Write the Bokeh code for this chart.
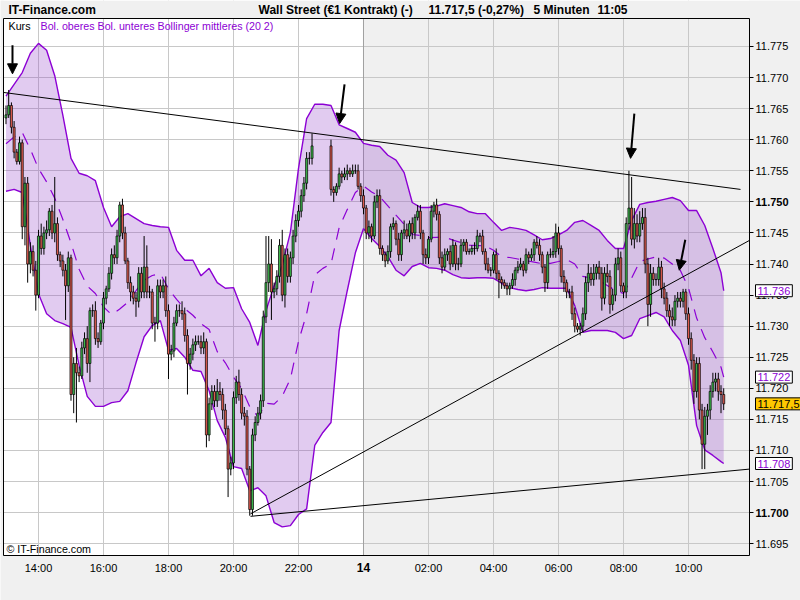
from bokeh.plotting import figure
from bokeh.models import (Range1d, FixedTicker, Label, Arrow, NormalHead,
                          ColumnDataSource)
from bokeh.embed import file_html
from bokeh.resources import INLINE

# ---------------- data ----------------
start_minute = 780          # first candle 13:00 (minutes after midnight of day 13)
step_minutes = 5
first_open = 11763.5

closes = [
    11764, 11765.5, 11762, 11758, 11756.5, 11759.5, 11746, 11753, 11740, 11742,
    11739, 11735, 11744.5, 11742.5, 11745, 11745.5, 11748.5, 11745, 11746.5, 11741.5,
    11740.5, 11739, 11736.5, 11741, 11719, 11724, 11722.5, 11722, 11726.5, 11728,
    11724, 11732.5, 11732.5, 11728, 11727.5, 11730.5, 11734.5, 11736, 11738.5, 11741.5,
    11741, 11744.5, 11749.5, 11745, 11740.5, 11737, 11735.5, 11734.5, 11734, 11738.5,
    11735.5, 11739.5, 11735.5, 11735.5, 11730.5, 11730.5, 11736.5, 11735.5, 11736.5, 11732.5,
    11725.5, 11726, 11730.5, 11732.5, 11732.5, 11732, 11728.5, 11724, 11725.5, 11727,
    11727.5, 11727.5, 11726.5, 11727.5, 11712.5, 11717.5, 11719.5, 11718, 11719.5, 11719,
    11716.5, 11713.5, 11707, 11708, 11718.5, 11721, 11719, 11716, 11715.5, 11707,
    11700.5, 11712.5, 11714.5, 11716, 11718, 11731.5, 11737, 11740, 11735.5, 11736,
    11738, 11743, 11735, 11741.5, 11738, 11741, 11744.5, 11747, 11748.5, 11751,
    11753, 11757, 11757, 11759, None, None, None, None, None, None,
    11752, 11751.5, 11752.5, 11754.5, 11754, 11754.5, 11755, 11754.5, 11755, 11755,
    11752.5, 11751, 11749, 11745, 11746, 11744.5, 11750, 11751, 11742.5, 11741.5,
    11740.5, 11742, 11746, 11746.5, 11744, 11741.5, 11745, 11745.5, 11744.5, 11746.5,
    11745, 11747.5, 11748.5, 11745, 11741.5, 11741, 11744, 11748.5, 11749.5, 11748,
    11741, 11739.5, 11741.5, 11742, 11740, 11743, 11740, 11740, 11743, 11743.5,
    11742, 11742, 11742.5, 11742.5, 11744.5, 11744.5, 11742, 11740, 11739, 11739,
    11741.5, 11738.5, 11737.5, 11737, 11736.5, 11736, 11736.5, 11737.5, 11739, 11739.5,
    11740, 11739, 11741.5, 11741, 11741.5, 11743.5, 11743, 11741.5, 11739.5, 11737,
    11741.5, 11741.5, 11742, 11745, 11742.5, 11738, 11737, 11735.5, 11735.5, 11732,
    11730, 11729.5, 11730, 11732, 11737, 11738.5, 11737.5, 11738.5, 11739.5, 11738.5,
    11734.5, 11738.5, 11738, 11733.5, 11735, 11740, 11741, 11736.5, 11735.5, 11746.5,
    11749, 11744, 11746.5, 11744.5, 11746.5, 11747.5, 11740, 11733.5, 11738.5, 11737.5,
    11737.5, 11739.5, 11736, 11734.5, 11732.5, 11731.5, 11731, 11734, 11734.5, 11734,
    11735.5, 11732, 11728, 11724.5, 11719.5, 11724, 11716.5, 11711, 11715.5, 11716.5,
    11719.5, 11721, 11721.5, 11719.5, 11719, 11717.5,
]

# wick length above max(open, close) and below min(open, close), in points
wick_up = [
    1.5, 2.5, 0.5, 1, 0.5, 1, 0.5, 1, 1, 1.5,
    1, 1.5, 1, 2, 1, 1.5, 0.5, 1, 7.5, 1,
    0.5, 1, 1, 1, 0.5, 1, 2.5, 1, 1, 1,
    2, 0.5, 1, 1.5, 1, 0.5, 1, 0.5, 1, 1,
    1.5, 1, 0.5, 1, 1, 0.5, 1, 1, 1, 1,
    1, 5, 3.5, 1, 0.5, 1, 1, 1, 1, 1.5,
    1, 1, 1, 1, 1, 1.5, 1, 1, 1, 1,
    1, 1, 1, 1.5, 0.5, 1, 1, 1, 2, 1.5,
    1, 1, 0.5, 1, 1, 1, 2, 1, 1, 1,
    0.5, 1, 1, 1, 1, 1, 7.5, 4.5, 4, 1,
    1, 1, 2.5, 1, 1, 1, 1, 1, 1, 1,
    1, 1, 1, 2, 0, 0, 0, 0, 0, 0,
    1, 0.5, 0.5, 1, 0.5, 1, 1, 0.5, 1, 1,
    1, 0.5, 1, 0.5, 1, 0.5, 1, 1, 1, 0.5,
    0.5, 1, 0.5, 1, 0.5, 1, 0.5, 1.5, 1, 0.5,
    1, 0.5, 1, 1, 0.5, 1, 0.5, 1, 0.5, 1,
    0.5, 1, 1, 0.5, 1, 1, 0.5, 1, 1, 0.5,
    0.5, 0.5, 0.5, 1, 1, 0.5, 1, 0.5, 1, 0.5,
    0.5, 1, 0.5, 0.5, 0.5, 0.5, 0.5, 1, 0.5, 1,
    1, 0.5, 1, 0.5, 1, 0.5, 1, 1, 0.5, 0.5,
    0.5, 1, 2.5, 1.5, 1, 0.5, 1, 0.5, 0.5, 1,
    1, 0.5, 0.5, 1, 1, 1.5, 1, 1.5, 0.5, 1,
    1, 1, 1.5, 1, 1, 1, 1.5, 1, 0.5, 1,
    6, 5, 2.5, 1.5, 2, 1.5, 1.5, 1, 1.5, 1,
    1, 1.5, 1, 1, 1, 1, 1.5, 1, 1, 1,
    0.5, 0.5, 1, 1, 1, 1, 1, 1, 1.5, 1,
    1, 1.5, 1, 1, 1, 1,
]
wick_dn = [
    1, 0.5, 1, 1, 0.5, 0.5, 2, 3, 3, 1.5,
    1, 2.5, 0.5, 1, 1, 1, 1, 1, 1.5, 1,
    1, 1, 5.5, 1, 1, 3, 8, 1, 0.5, 1,
    1.5, 3, 1, 1, 1, 0.5, 1, 1, 0.5, 1,
    1, 1, 1, 1, 0.5, 1, 1.5, 1, 2.5, 1,
    1, 1, 1, 1, 1, 3, 1, 1, 1, 1,
    4, 1, 1, 0.5, 1, 1, 1, 5, 1, 1,
    1, 0.5, 1, 1, 2, 1, 1, 1, 1, 1,
    1.5, 1, 4.5, 1, 1, 1, 1, 1, 1.5, 1,
    1, 1, 1, 0.5, 1, 1, 1, 1.5, 4.5, 1,
    1, 1, 1, 2, 1, 1, 1, 1, 1, 1,
    1, 1, 1, 1, 0, 0, 0, 0, 0, 0,
    1, 1.5, 0.5, 0.5, 1, 0.5, 1, 0.5, 0.5, 0.5,
    0.5, 1, 1, 1, 1, 1, 0.5, 1, 1, 1,
    1, 0.5, 1, 0.5, 1, 1, 1, 1, 0.5, 1,
    1, 1, 0.5, 1, 1.5, 1, 1, 0.5, 1, 1,
    1, 1, 0.5, 1, 1, 0.5, 1, 1, 0.5, 1,
    0.5, 0.5, 0.5, 1, 0.5, 1, 0.5, 1, 0.5, 1,
    0.5, 1, 3, 1, 0.5, 1, 1, 0.5, 1, 0.5,
    0.5, 1, 0.5, 1, 0.5, 1, 0.5, 1, 1, 1.5,
    1, 0.5, 0.5, 1, 1, 1, 1.5, 1, 1, 1,
    1, 0.5, 1, 1, 1, 1.5, 1, 1, 1, 1,
    2, 1, 1, 1.5, 1, 1, 1, 1, 1, 1,
    1, 1, 1.5, 1, 1, 1, 1.5, 3.5, 2, 1,
    1, 1, 1.5, 1, 1, 1.5, 1, 1, 1, 1,
    1, 1, 1, 1.5, 2, 1, 1.5, 4, 4, 3,
    1.5, 1, 1.5, 1.5, 3, 1,
]

# Bollinger (20 2) band, read every third candle plus the last one
band_candle = list(range(0, 265, 3)) + [265]
band_upper = [
    11767.0, 11768.9, 11770.8, 11773.9, 11775.5, 11774.4, 11770.3, 11763.9, 11757.0, 11754.6,
    11754.2, 11753.4, 11749.1, 11746.0, 11747.6, 11748.1, 11747.3, 11746.5, 11746.2, 11746.0,
    11745.9, 11742.2, 11740.6, 11740.6, 11738.1, 11739.3, 11737.0, 11736.1, 11736.2, 11732.8,
    11730.6, 11726.9, 11732.5, 11736.5, 11739.8, 11745.1, 11755.4, 11763.4, 11765.7, 11765.7,
    11765.5, 11762.4, 11761.8, 11761.2, 11759.4, 11759.1, 11758.9, 11757.5, 11756.7, 11754.7,
    11749.9, 11749.1, 11749.1, 11749.3, 11749.7, 11749.4, 11749.1, 11748.4, 11748.1, 11748.1,
    11746.7, 11745.4, 11745.9, 11745.7, 11745.4, 11744.7, 11743.9, 11744.1, 11744.7, 11745.4,
    11746.7, 11747.0, 11746.2, 11745.4, 11743.8, 11742.5, 11742.5, 11747.0, 11749.6, 11749.9,
    11750.1, 11750.4, 11750.7, 11750.2, 11748.6, 11748.6, 11746.2, 11742.5, 11738.6, 11735.7,
]
band_lower = [
    11751.7, 11752.0, 11751.5, 11743.0, 11735.2, 11732.0, 11730.9, 11730.4, 11729.8, 11723.7,
    11718.7, 11717.1, 11717.1, 11717.7, 11717.9, 11719.6, 11724.1, 11728.3, 11730.1, 11730.9,
    11726.1, 11726.4, 11725.0, 11722.9, 11722.7, 11719.6, 11714.8, 11712.1, 11707.4, 11707.1,
    11703.5, 11704.0, 11702.7, 11698.4, 11697.7, 11697.9, 11699.7, 11700.6, 11710.8, 11712.9,
    11714.5, 11729.3, 11735.7, 11741.8, 11745.7, 11744.1, 11742.8, 11741.2, 11739.0, 11738.1,
    11739.6, 11740.1, 11739.4, 11739.3, 11739.0, 11738.3, 11737.8, 11737.7, 11737.8, 11737.8,
    11737.7, 11736.9, 11736.2, 11735.9, 11735.7, 11735.9, 11736.2, 11736.1, 11736.1, 11736.1,
    11733.3, 11729.0, 11729.3, 11729.3, 11729.3, 11729.0, 11728.0, 11728.5, 11731.2, 11731.7,
    11732.2, 11731.5, 11729.3, 11727.7, 11723.7, 11714.0, 11710.1, 11709.2, 11708.2, 11707.9,
]

# trend lines (minutes, price)
trend_x0 = [775.4, 1231.4, 1231.4]
trend_y0 = [11767.6, 11699.8, 11699.4]
trend_x1 = [2136.0, 2152.6, 2152.6]
trend_y1 = [11752.0, 11743.8, 11707.0]

# hand-drawn arrows (minutes, price)
arrow_x0 = [792, 1405, 1940, 2034]
arrow_y0 = [11775.2, 11768.9, 11764.2, 11743.9]
arrow_x1 = [792, 1396, 1933, 2023]
arrow_y1 = [11770.6, 11762.6, 11757.0, 11739.0]

x_ticks = [840, 960, 1080, 1200, 1320, 1440, 1560, 1680, 1800, 1920, 2040]
x_tick_labels = ["14:00", "16:00", "18:00", "20:00", "22:00", "14",
                 "02:00", "04:00", "06:00", "08:00", "10:00"]
day_break = 1440
y_ticks = list(range(11695, 11780, 5))
bold_y_ticks = [11700, 11750]

# visible plot area (time / price at its edges)
X_START, X_END = 775.4, 2152.6
Y_START, Y_END = 11693.1, 11779.5

# ---------------- layout constants (pixels) ----------------
W, H = 800, 600
PL, PR, PT, PB = 3, 749, 18, 555          # plot area edges on the canvas
mpx = (X_END - X_START) / (PR - PL)        # minutes per pixel
ppx = (Y_END - Y_START) / (PB - PT)        # points per pixel
X0, X1 = X_START - PL * mpx, X_END + (W - PR) * mpx
Y0, Y1 = Y_START - (H - PB) * ppx, Y_END + PT * ppx
PURPLE = "#8c00d4"


def sy(y_top):
    return H - y_top


# ---------------- derived ----------------
xs, opens_, closes_, highs, lows, colors = [], [], [], [], [], []
prev = first_open
for i, c in enumerate(closes):
    if c is None:
        continue
    o = prev
    xs.append(start_minute + step_minutes * i)
    opens_.append(o)
    closes_.append(c)
    highs.append(max(o, c) + wick_up[i])
    lows.append(min(o, c) - wick_dn[i])
    colors.append("#3cb44a" if c >= o else "#dc5a4e")
    prev = c

src = ColumnDataSource(dict(x=xs, top=[max(a, b) for a, b in zip(opens_, closes_)],
                            bottom=[min(a, b) for a, b in zip(opens_, closes_)],
                            high=highs, low=lows, color=colors))

band_x = [start_minute + step_minutes * i for i in band_candle]
band_mid = [(u + l) / 2 for u, l in zip(band_upper, band_lower)]

p = figure(width=W, height=H, x_range=Range1d(X0, X1), y_range=Range1d(Y0, Y1),
           output_backend="svg", toolbar_location=None, y_axis_location="right",
           min_border_left=0, min_border_right=0, min_border_top=0,
           min_border_bottom=0, background_fill_color="white",
           border_fill_color="#f0f0f0", outline_line_color=None)

# grey background after the day break
p.quad(left=[day_break], right=[X_END], bottom=[Y_START], top=[Y_END],
       fill_color="#f0f0f0", line_color=None, level="image")

# axes drawn at the edges of the plot area
p.xaxis.fixed_location = Y_START
p.xaxis.bounds = (X_START, X_END)
p.xaxis.ticker = FixedTicker(ticks=x_ticks)
p.xaxis.major_label_overrides = {t: (l if t != day_break else "")
                                 for t, l in zip(x_ticks, x_tick_labels)}
p.xaxis.major_tick_out = 0
p.xaxis.major_tick_in = 0
p.xaxis.minor_tick_line_color = None
p.xaxis.axis_line_color = "black"
p.xaxis.major_label_standoff = 6
p.xaxis.major_label_text_font = "Liberation Sans"
p.xaxis.major_label_text_font_size = "11px"
p.xaxis.major_label_text_color = "black"

p.yaxis.fixed_location = X_END
p.yaxis.bounds = (Y_START, Y_END)
p.yaxis.ticker = FixedTicker(ticks=y_ticks)
p.yaxis.major_label_overrides = {
    t: ("" if t in bold_y_ticks else f"{t:,}".replace(",", ".")) for t in y_ticks}
p.yaxis.major_tick_out = 4
p.yaxis.major_tick_in = 0
p.yaxis.major_tick_line_color = "black"
p.yaxis.minor_tick_line_color = None
p.yaxis.axis_line_color = "black"
p.yaxis.major_label_standoff = 2
p.yaxis.major_label_text_font = "Liberation Sans"
p.yaxis.major_label_text_font_size = "11px"
p.yaxis.major_label_text_color = "black"

p.xgrid.grid_line_color = "#c8c8c8"
p.ygrid.grid_line_color = "#c8c8c8"

# cover grid lines outside the plot area
p.quad(left=[X0, X_END, X0, X0], right=[X_START, X1, X1, X1],
       bottom=[Y0, Y0, Y_END, Y0], top=[Y1, Y1, Y1, Y_START],
       fill_color="#f0f0f0", line_color=None)

# day-break line and left / top border
p.segment(x0=[day_break], y0=[Y_START], x1=[day_break], y1=[Y_END],
          line_color="#a0a0a0", line_width=1)
p.segment(x0=[X_START, X_START], y0=[Y_START, Y_END], x1=[X_START, X_END],
          y1=[Y_END, Y_END], line_color="black", line_width=1)

# Bollinger band
p.varea(x=band_x, y1=band_lower, y2=band_upper, fill_color="#9040c8", fill_alpha=0.27)
p.line(band_x, band_upper, line_color=PURPLE, line_width=1.4)
p.line(band_x, band_lower, line_color=PURPLE, line_width=1.4)
p.line(band_x, band_mid, line_color=PURPLE, line_width=1.2, line_dash="12 9")

# candles
p.segment(x0="x", y0="low", x1="x", y1="high", source=src, line_color="black",
          line_width=1)
p.vbar(x="x", width=3.8, top="top", bottom="bottom", source=src,
       fill_color="color", line_color="black", line_width=0.7)

# trend lines
p.segment(x0=trend_x0, y0=trend_y0, x1=trend_x1, y1=trend_y1,
          line_color="black", line_width=1)

# arrows
asrc = ColumnDataSource(dict(x0=arrow_x0, y0=arrow_y0, x1=arrow_x1, y1=arrow_y1))
p.add_layout(Arrow(end=NormalHead(size=10, fill_color="black", line_color="black"),
                   x_start="x0", y_start="y0", x_end="x1", y_end="y1",
                   source=asrc, line_color="black", line_width=2))

# header texts
header = [("IT-Finance.com", 8), ("Wall Street (€1 Kontrakt) (-)", 258),
          ("11.717,5 (-0,27%)", 428), ("5 Minuten", 533), ("11:05", 597)]
for txt, hx in header:
    p.add_layout(Label(x=hx, y=sy(9.5), x_units="screen", y_units="screen", text=txt,
                       text_font="Liberation Sans", text_font_style="bold",
                       text_font_size="12px", text_baseline="middle",
                       text_color="black"))

# legend line
p.add_layout(Label(x=8, y=sy(25), x_units="screen", y_units="screen", text="Kurs",
                   text_font="Liberation Sans", text_font_size="10.7px",
                   text_baseline="middle", text_color="black"))
p.add_layout(Label(x=40, y=sy(25), x_units="screen", y_units="screen",
                   text="Bol. oberes Bol. unteres Bollinger mittleres (20 2)",
                   text_font="Liberation Sans", text_font_size="10.7px",
                   text_baseline="middle", text_color=PURPLE))
p.add_layout(Label(x=6, y=sy(548), x_units="screen", y_units="screen",
                   text="© IT-Finance.com", text_font="Liberation Sans",
                   text_font_size="10.7px", text_baseline="middle",
                   text_color="black"))

# bold day label on the time axis
p.add_layout(Label(x=day_break, y=sy(567), x_units="data", y_units="screen",
                   text=x_tick_labels[x_ticks.index(day_break)],
                   text_font="Liberation Sans", text_font_style="bold",
                   text_font_size="12px", text_align="center",
                   text_baseline="middle", text_color="black"))

# bold price labels
for t in bold_y_ticks:
    p.add_layout(Label(x=PR + 6, y=t, x_units="screen", y_units="data",
                       text=f"{t:,}".replace(",", "."), text_font="Liberation Sans",
                       text_font_style="bold", text_font_size="11px",
                       text_baseline="middle", text_color="black"))


# value boxes on the price axis
def fmt3(v):
    return f"{round(v):,}".replace(",", ".")


def fmt_last(v):
    return f"{v:,.1f}".replace(",", "X").replace(".", ",").replace("X", ".")


for val, txt, col, bg in [
    (band_upper[-1], fmt3(band_upper[-1]), PURPLE, "white"),
    (band_mid[-1], fmt3(band_mid[-1]), PURPLE, "white"),
    (band_lower[-1], fmt3(band_lower[-1]), PURPLE, "white"),
    (closes_[-1], fmt_last(closes_[-1]), "black", "#ffc800"),
]:
    p.add_layout(Label(x=PR + 6, y=val, x_units="screen", y_units="data", text=txt,
                       text_font="Liberation Sans", text_font_size="11px",
                       text_baseline="middle", text_color=col,
                       background_fill_color=bg, border_line_color="black",
                       padding=2))

open("out.html", "w").write(file_html(p, INLINE))
